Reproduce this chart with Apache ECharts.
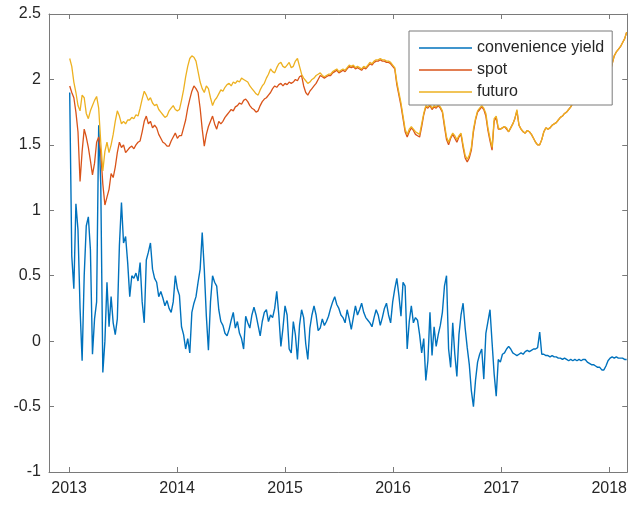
<!DOCTYPE html>
<html>
<head>
<meta charset="utf-8">
<script src="https://cdn.jsdelivr.net/npm/echarts@6/dist/echarts.min.js"></script>
<style>
  html, body { margin: 0; padding: 0; background: #fff; }
  #chart { width: 630px; height: 505px; }
</style>
</head>
<body>
<div id="chart"></div>
<script>
// Weekly observations, first week of January 2013 to early March 2018
const startDate = [2013, 0, 3];
const stepDays = 7;

// Year tick labels on the horizontal axis
const yearLabels = [2013, 2014, 2015, 2016, 2017, 2018];

// Vertical axis range
const yMin = -1, yMax = 2.5, yStep = 0.5;

const seriesNames = ['convenience yield', 'spot', 'futuro'];

const convenienceYield = [
  1.90, 0.65, 0.40, 1.05, 0.85, 0.25, -0.15, 0.50, 0.88, 0.95, 0.70, -0.10, 0.17,
  0.30, 1.65, 1.20, -0.24, 0.00, 0.45, 0.11, 0.34, 0.14, 0.05, 0.17, 0.73, 1.06,
  0.75, 0.80, 0.60, 0.34, 0.50, 0.48, 0.52, 0.46, 0.60, 0.30, 0.14, 0.62, 0.68,
  0.75, 0.55, 0.48, 0.45, 0.34, 0.38, 0.33, 0.27, 0.31, 0.25, 0.22, 0.30, 0.50,
  0.40, 0.35, 0.11, 0.05, -0.06, 0.02, -0.09, 0.22, 0.29, 0.34, 0.45, 0.55, 0.83,
  0.55, 0.19, -0.07, 0.30, 0.50, 0.45, 0.42, 0.24, 0.15, 0.12, 0.06, 0.04, 0.09,
  0.16, 0.22, 0.10, 0.15, 0.06, 0.02, -0.06, 0.19, 0.14, 0.10, 0.20, 0.26, 0.20,
  0.12, 0.04, 0.15, 0.22, 0.24, 0.15, 0.20, 0.18, 0.25, 0.38, 0.20, -0.04, 0.10,
  0.27, 0.20, -0.06, -0.09, 0.15, 0.05, -0.14, 0.12, 0.24, 0.18, -0.02, -0.14, 0.10,
  0.20, 0.27, 0.20, 0.08, 0.10, 0.17, 0.12, 0.15, 0.19, 0.25, 0.30, 0.34, 0.28,
  0.25, 0.20, 0.18, 0.14, 0.24, 0.17, 0.09, 0.18, 0.27, 0.20, 0.24, 0.29, 0.22,
  0.18, 0.16, 0.14, 0.11, 0.18, 0.24, 0.20, 0.12, 0.18, 0.25, 0.29, 0.20, 0.14,
  0.30, 0.40, 0.48, 0.35, 0.19, 0.45, 0.42, -0.06, 0.15, 0.27, 0.14, 0.18, 0.16,
  0.05, -0.09, 0.02, -0.30, -0.15, 0.22, -0.11, 0.11, -0.04, 0.05, 0.12, 0.22, 0.42,
  0.50, -0.06, -0.20, 0.14, -0.10, -0.27, 0.05, 0.20, 0.29, 0.10, -0.05, -0.18, -0.38,
  -0.50, -0.30, -0.16, -0.10, -0.06, -0.29, 0.06, 0.15, 0.24, -0.01, -0.25, -0.42, -0.14,
  -0.16, -0.10, -0.09, -0.06, -0.04, -0.06, -0.09, -0.10, -0.11, -0.10, -0.09, -0.10, -0.08,
  -0.07, -0.08, -0.07, -0.06, -0.06, -0.05, 0.07, -0.10, -0.10, -0.11, -0.11, -0.12, -0.11,
  -0.12, -0.12, -0.13, -0.13, -0.14, -0.13, -0.14, -0.15, -0.14, -0.15, -0.14, -0.15, -0.14,
  -0.15, -0.14, -0.14, -0.16, -0.17, -0.18, -0.18, -0.19, -0.20, -0.20, -0.22, -0.22, -0.19,
  -0.15, -0.13, -0.12, -0.13, -0.12, -0.13, -0.13, -0.13, -0.14, -0.14
];

const spot = [
  1.95, 1.90, 1.86, 1.75, 1.60, 1.22, 1.45, 1.62, 1.56, 1.48, 1.38, 1.27, 1.36,
  1.52, 1.56, 1.44, 1.20, 1.04, 1.10, 1.16, 1.28, 1.25, 1.33, 1.44, 1.52, 1.48,
  1.50, 1.44, 1.46, 1.48, 1.49, 1.47, 1.50, 1.52, 1.53, 1.60, 1.68, 1.72, 1.66,
  1.68, 1.63, 1.65, 1.63, 1.58, 1.55, 1.52, 1.51, 1.49, 1.49, 1.53, 1.56, 1.59,
  1.55, 1.57, 1.57, 1.63, 1.69, 1.78, 1.85, 1.91, 1.95, 1.93, 1.90, 1.78, 1.62,
  1.49, 1.58, 1.64, 1.68, 1.72, 1.66, 1.62, 1.68, 1.66, 1.68, 1.71, 1.73, 1.75,
  1.77, 1.76, 1.79, 1.80, 1.82, 1.81, 1.84, 1.85, 1.83, 1.80, 1.78, 1.77, 1.75,
  1.76, 1.80, 1.83, 1.85, 1.86, 1.88, 1.90, 1.93, 1.95, 1.94, 1.96, 1.97, 1.95,
  1.97, 1.96, 1.98, 1.97, 1.98, 2.00, 1.99, 2.02, 2.03, 1.95, 1.90, 1.88, 1.91,
  1.93, 1.95, 1.97, 2.00, 2.03, 2.02, 2.01, 2.02, 2.03, 2.03, 2.05, 2.06, 2.07,
  2.05, 2.06, 2.07, 2.06, 2.08, 2.10, 2.09, 2.10, 2.08, 2.09, 2.08, 2.07, 2.09,
  2.08, 2.10, 2.12, 2.11, 2.13, 2.14, 2.14, 2.15, 2.14, 2.14, 2.13, 2.13, 2.12,
  2.10, 2.08, 1.96, 1.88, 1.80, 1.70, 1.60, 1.56, 1.60, 1.63, 1.61, 1.58, 1.57,
  1.56, 1.64, 1.73, 1.79, 1.78, 1.80, 1.77, 1.79, 1.78, 1.80, 1.78, 1.75, 1.64,
  1.54, 1.50, 1.55, 1.58, 1.55, 1.52, 1.56, 1.58, 1.48, 1.40, 1.37, 1.40, 1.46,
  1.60, 1.69, 1.75, 1.77, 1.79, 1.77, 1.72, 1.61, 1.53, 1.46, 1.68, 1.71, 1.62,
  1.62, 1.63, 1.64, 1.62, 1.60, 1.63, 1.66, 1.70, 1.76, 1.65, 1.62, 1.60, 1.59,
  1.61, 1.60, 1.58, 1.55, 1.52, 1.50, 1.50, 1.54, 1.60, 1.63, 1.62, 1.63, 1.65,
  1.66, 1.67, 1.69, 1.71, 1.72, 1.74, 1.75, 1.77, 1.79, 1.82, 1.84, 1.83, 1.86,
  1.88, 1.87, 1.90, 1.92, 1.91, 1.94, 1.96, 1.95, 1.98, 2.00, 1.99, 2.02, 2.03,
  2.04, 2.05, 2.12, 2.18, 2.21, 2.23, 2.25, 2.28, 2.31, 2.36
];

const futuro = [
  2.16, 2.10, 1.98, 1.90, 1.80, 1.76, 1.88, 1.86, 1.74, 1.70, 1.76, 1.80, 1.84,
  1.87, 1.78, 1.52, 1.30, 1.45, 1.52, 1.44, 1.50, 1.58, 1.68, 1.76, 1.72, 1.66,
  1.68, 1.66, 1.69, 1.69, 1.71, 1.70, 1.73, 1.72, 1.78, 1.85, 1.91, 1.88, 1.84,
  1.86, 1.82, 1.80, 1.81, 1.77, 1.75, 1.73, 1.71, 1.72, 1.76, 1.78, 1.80, 1.77,
  1.76, 1.77, 1.84, 1.92, 2.02, 2.10, 2.16, 2.18, 2.17, 2.14, 2.06, 1.98, 1.93,
  1.90, 1.95, 1.93, 1.86, 1.80, 1.84, 1.86, 1.89, 1.92, 1.91, 1.94, 1.96, 1.97,
  1.95, 1.98, 1.97, 1.99, 1.98, 2.01, 2.00, 1.99, 1.98, 1.95, 1.93, 1.91, 1.89,
  1.88, 1.92, 1.95, 1.97, 2.01, 2.04, 2.08, 2.06, 2.05, 2.09, 2.12, 2.13, 2.10,
  2.09, 2.11, 2.13, 2.09, 2.10, 2.14, 2.16, 2.10, 2.04, 2.01, 1.99, 1.97, 1.98,
  2.00, 2.01, 2.03, 2.04, 2.05, 2.03, 2.02, 2.03, 2.04, 2.04, 2.06, 2.07, 2.08,
  2.06, 2.07, 2.08, 2.07, 2.09, 2.11, 2.10, 2.11, 2.09, 2.10, 2.09, 2.08, 2.10,
  2.09, 2.11, 2.13, 2.12, 2.14, 2.15, 2.15, 2.16, 2.15, 2.15, 2.14, 2.14, 2.13,
  2.11, 2.09, 1.98, 1.90, 1.82, 1.72, 1.62, 1.58, 1.62, 1.64, 1.62, 1.60, 1.59,
  1.58, 1.66, 1.74, 1.80, 1.79, 1.81, 1.78, 1.80, 1.79, 1.81, 1.79, 1.76, 1.66,
  1.56, 1.52, 1.56, 1.59, 1.57, 1.54, 1.57, 1.59, 1.50, 1.42, 1.39, 1.42, 1.48,
  1.62, 1.70, 1.76, 1.78, 1.80, 1.78, 1.74, 1.63, 1.55, 1.48, 1.70, 1.72, 1.63,
  1.62, 1.63, 1.64, 1.63, 1.60, 1.63, 1.66, 1.70, 1.77, 1.65, 1.62, 1.60, 1.59,
  1.61, 1.60, 1.58, 1.55, 1.52, 1.50, 1.50, 1.54, 1.60, 1.63, 1.62, 1.63, 1.65,
  1.66, 1.67, 1.69, 1.71, 1.72, 1.74, 1.75, 1.77, 1.79, 1.82, 1.84, 1.83, 1.86,
  1.88, 1.87, 1.90, 1.92, 1.91, 1.94, 1.96, 1.95, 1.98, 2.00, 1.99, 2.02, 2.03,
  2.04, 2.05, 2.12, 2.18, 2.21, 2.23, 2.25, 2.28, 2.31, 2.36
];

const colors = ['#0072BD', '#D95319', '#EDB120'];
const axisColor = '#7a7a7a';
const textColor = '#262626';
const fontFamily = '"Liberation Sans", Arial, Helvetica, sans-serif';

const t0 = new Date(startDate[0], startDate[1], startDate[2]).getTime();
const dayMs = 24 * 3600 * 1000;
const dates = futuro.map((_, i) => t0 + i * stepDays * dayMs);
const pairs = vals => vals.map((v, i) => [dates[i], v]);

// Timestamps on a continuous value axis, year marks on 1 January
const yearTicks = yearLabels.map(y => new Date(y, 0, 1).getTime());
const xMin = new Date(2012, 9, 25).getTime();
const xMax = new Date(2018, 2, 3).getTime();

const chart = echarts.init(document.getElementById('chart'), null, { renderer: 'canvas' });

const xBase = {
  type: 'value', min: xMin, max: xMax, scale: true,
  axisLine: { show: true, onZero: false, lineStyle: { color: axisColor, width: 1 } },
  splitLine: { show: false }
};
const yBase = {
  type: 'value', min: yMin, max: yMax, interval: yStep,
  axisLine: { show: true, onZero: false, lineStyle: { color: axisColor, width: 1 } },
  splitLine: { show: false }
};

chart.setOption({
  backgroundColor: '#fff',
  animation: false,
  color: colors,
  grid: { left: 49, right: 2, top: 14, bottom: 33, containLabel: false },
  xAxis: [
    Object.assign({}, xBase, {
      position: 'bottom',
      axisTick: { show: true, inside: true, length: 5, customValues: yearTicks, lineStyle: { color: axisColor } },
      axisLabel: {
        customValues: yearTicks,
        formatter: v => String(new Date(v).getFullYear()),
        color: textColor, fontSize: 16, fontFamily: fontFamily, margin: 9
      }
    }),
    Object.assign({}, xBase, {
      position: 'top',
      axisTick: { show: true, inside: true, length: 5, customValues: yearTicks, lineStyle: { color: axisColor } },
      axisLabel: { show: false }
    })
  ],
  yAxis: [
    Object.assign({}, yBase, {
      position: 'left',
      axisTick: { show: true, inside: true, length: 5, lineStyle: { color: axisColor } },
      axisLabel: { color: textColor, fontSize: 16, fontFamily: fontFamily, margin: 8 }
    }),
    Object.assign({}, yBase, {
      position: 'right',
      axisTick: { show: true, inside: true, length: 5, lineStyle: { color: axisColor } },
      axisLabel: { show: false }
    })
  ],
  legend: {
    orient: 'vertical',
    left: 409, top: 31,
    data: seriesNames,
    icon: 'rect',
    itemWidth: 53, itemHeight: 1.5, itemGap: 6,
    padding: [9, 8, 5, 10],
    backgroundColor: '#fff',
    borderColor: axisColor, borderWidth: 1, borderRadius: 0,
    selectedMode: false,
    textStyle: { color: textColor, fontSize: 16, lineHeight: 16, fontFamily: fontFamily }
  },
  series: [
    { name: seriesNames[0], type: 'line', data: pairs(convenienceYield), symbol: 'none', lineStyle: { width: 1.4 } },
    { name: seriesNames[1], type: 'line', data: pairs(spot), symbol: 'none', lineStyle: { width: 1.3 } },
    { name: seriesNames[2], type: 'line', data: pairs(futuro), symbol: 'none', lineStyle: { width: 1.3 } }
  ]
});
</script>
</body>
</html>
